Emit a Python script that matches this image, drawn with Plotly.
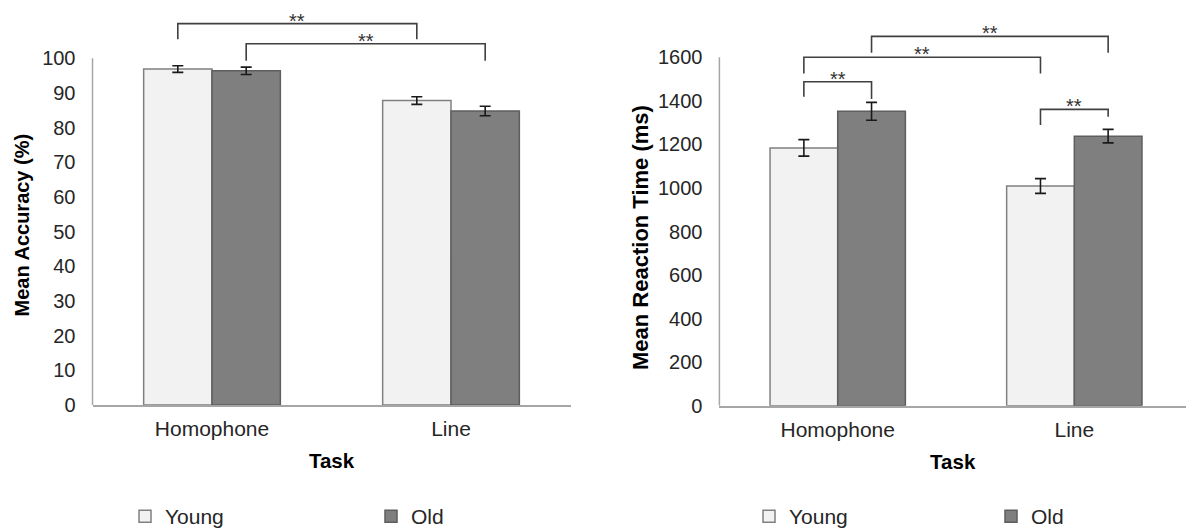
import plotly.graph_objects as go

# ---------------- data ----------------
tasks = ["Homophone", "Line"]
groups = ["Young", "Old"]

acc_young = [96.9, 87.8]
acc_old = [96.4, 84.8]
acc_young_err = [0.95, 1.1]
acc_old_err = [1.07, 1.35]

rt_young = [1184, 1009]
rt_old = [1352, 1238]
rt_young_err = [38, 34]
rt_old_err = [41, 31]

acc_ticks = [0, 10, 20, 30, 40, 50, 60, 70, 80, 90, 100]
rt_ticks = [0, 200, 400, 600, 800, 1000, 1200, 1400, 1600]

# significance: (group_a, task_a, group_b, task_b, label)
acc_sig = [("Young", 0, "Young", 1, "**"),
           ("Old", 0, "Old", 1, "**")]
rt_sig = [("Young", 0, "Old", 0, "**"),
          ("Young", 0, "Young", 1, "**"),
          ("Old", 0, "Old", 1, "**"),
          ("Young", 1, "Old", 1, "**")]

# ---------------- styling / positions ----------------
W, H = 1186, 531
FONT = "Liberation Sans, Arial, sans-serif"
TXT = "#262626"
AXC = "#a6a6a6"
BARGAP = 0.428
fill = {"Young": "#f2f2f2", "Old": "#7f7f7f"}
edge = {"Young": "#808080", "Old": "#5e5e5e"}

# bracket levels (top, left-leg end, right-leg end) in data units
acc_levels = [(110.0, 105.5, 105.5), (104.2, 99.3, 99.3)]
rt_levels = [(1488, 1419, 1408), (1600, 1526, 1526),
             (1696, 1621, 1621), (1361, 1289, 1327)]


def px_x(p):
    return p / W


def px_y(p):
    return (H - p) / H


fig = go.Figure()

series = [
    ("x", "y", "legend", acc_young, acc_young_err, acc_old, acc_old_err),
    ("x2", "y2", "legend2", rt_young, rt_young_err, rt_old, rt_old_err),
]
for xa, ya, lg, yv, ye, ov, oe in series:
    for g, vals, errs in (("Young", yv, ye), ("Old", ov, oe)):
        fig.add_trace(go.Bar(
            x=tasks, y=vals, name=g, xaxis=xa, yaxis=ya, legend=lg,
            offsetgroup=g,
            marker=dict(color=fill[g], line=dict(color=edge[g], width=1.5)),
            error_y=dict(type="data", array=errs, visible=True,
                         color="#1a1a1a", thickness=1.6, width=5.5),
            hoverinfo="skip",
        ))

# bar centre positions on the category axes
bw = (1 - BARGAP) / 2
off = {"Young": -bw / 2, "Old": bw / 2}

shapes = []
annotations = []
for xa, ya, sigs, levels in (("x", "y", acc_sig, acc_levels),
                             ("x2", "y2", rt_sig, rt_levels)):
    for (ga, ta, gb, tb, lab), (top, la, lb) in zip(sigs, levels):
        xa0 = ta + off[ga]
        xb0 = tb + off[gb]
        path = f"M {xa0},{la} L {xa0},{top} L {xb0},{top} L {xb0},{lb}"
        shapes.append(dict(type="path", path=path, xref=xa, yref=ya,
                           line=dict(color="#404040", width=1.6)))
        annotations.append(dict(x=(xa0 + xb0) / 2, y=top, xref=xa, yref=ya,
                                text=lab, showarrow=False, yanchor="bottom",
                                xanchor="center", yshift=-10,
                                font=dict(family=FONT, size=20, color="#333333")))

# y axis lines (0 .. max tick)
shapes.append(dict(type="line", xref="x domain", yref="y", x0=0, x1=0,
                   y0=0, y1=acc_ticks[-1], line=dict(color=AXC, width=1.5)))
shapes.append(dict(type="line", xref="x2 domain", yref="y2", x0=0, x1=0,
                   y0=0, y1=rt_ticks[-1], line=dict(color=AXC, width=1.5)))

# y axis titles
annotations.append(dict(x=px_x(21), y=px_y(225.5), xref="paper", yref="paper",
                        xanchor="center", yanchor="middle",
                        text="Mean Accuracy (%)", textangle=-90, showarrow=False,
                        font=dict(family=FONT, size=20, color="#000000", weight="bold")))
annotations.append(dict(x=px_x(640), y=px_y(238), xref="paper", yref="paper",
                        xanchor="center", yanchor="middle",
                        text="Mean Reaction Time (ms)", textangle=-90, showarrow=False,
                        font=dict(family=FONT, size=22, color="#000000", weight="bold")))

xcommon = dict(type="category", showline=True, linecolor=AXC, linewidth=1.5,
               ticks="", showgrid=False, zeroline=False, ticklabelstandoff=4,
               automargin=False,
               tickfont=dict(family=FONT, size=21, color=TXT),
               title=dict(text="Task", standoff=15,
                          font=dict(family=FONT, size=20.5, color="#000000", weight="bold")))
ycommon = dict(showline=False, showgrid=False, zeroline=False, ticks="",
               automargin=False,
               ticklabelstandoff=16, tickfont=dict(family=FONT, size=20, color=TXT))

legcommon = dict(orientation="h", xref="container", yref="container",
                 xanchor="left", yanchor="middle", y=px_y(516.5),
                 entrywidthmode="pixels", bgcolor="rgba(0,0,0,0)",
                 font=dict(family=FONT, size=21, color=TXT),
                 itemclick=False, itemdoubleclick=False)

fig.update_layout(
    width=W, height=H, autosize=False,
    margin=dict(l=0, r=0, t=0, b=0, autoexpand=False),
    paper_bgcolor="white", plot_bgcolor="white",
    barmode="group", bargap=BARGAP, bargroupgap=0,
    showlegend=True,
    xaxis=dict(domain=[px_x(92.5), px_x(570.5)], range=[-0.5, 1.5], anchor="y", **xcommon),
    yaxis=dict(domain=[px_y(405), px_y(405 - 112 * 3.467)], range=[0, 112],
               tickvals=acc_ticks, anchor="x", **ycommon),
    xaxis2=dict(domain=[px_x(719.4), 1.0], range=[-0.5, 1.472], anchor="y2", **xcommon),
    yaxis2=dict(domain=[px_y(405.7), px_y(405.7 - 1780 * 0.21775)], range=[0, 1780],
                tickvals=rt_ticks, anchor="x2", **ycommon),
    legend=dict(x=px_x(125), entrywidth=201, **legcommon),
    legend2=dict(x=px_x(749), entrywidth=197, **legcommon),
    shapes=shapes,
    annotations=annotations,
)

fig.write_html("out.html")
